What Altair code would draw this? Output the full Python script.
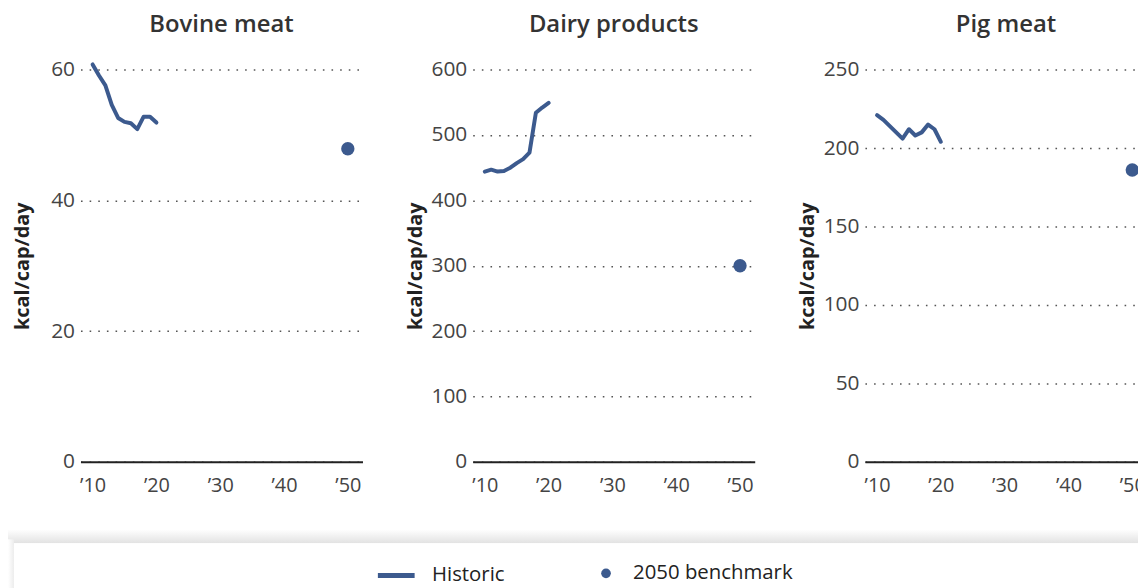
import altair as alt
import pandas as pd

# ---- data ----
years = [2010, 2011, 2012, 2013, 2014, 2015, 2016, 2017, 2018, 2019, 2020]
panels = ["Bovine meat", "Dairy products", "Pig meat"]
bovine = [60.8, 59.1, 57.6, 54.6, 52.6, 52.0, 51.8, 50.9, 52.8, 52.8, 51.9]
dairy = [444, 447, 444, 445, 450, 457, 463, 473, 534, 542, 549]
pig = [221, 218, 214, 210, 206, 212, 208, 210, 215, 212, 204]
bench_year = [2050]
bench_values = [47.9, 300, 186]
y_ticks = [
    [0, 20, 40, 60],
    [0, 100, 200, 300, 400, 500, 600],
    [0, 50, 100, 150, 200, 250],
]
x_ticks = [2010, 2020, 2030, 2040, 2050]
series_line = "Historic"
series_point = "2050 benchmark"

LINE = "#3c5a8e"
FONT = "Open Sans"
PW, PH = 284, 395


def panel(name, values, bval, ticks):
    hist = pd.DataFrame({"year": years, "value": values, "series": series_line})
    pt = pd.DataFrame({"year": bench_year, "value": [bval], "kind": series_point})
    x = alt.X(
        "year:Q",
        scale=alt.Scale(domain=[2008.1, 2052.3], nice=False, zero=False),
        axis=alt.Axis(
            values=x_ticks,
            labelExpr="'\u2019' + slice(toString(datum.value), 2)",
            title=None,
            grid=False,
            domain=True,
        ),
    )
    y = alt.Y(
        "value:Q",
        scale=alt.Scale(domain=[0, ticks[-1]], nice=False),
        axis=alt.Axis(values=ticks, title="kcal/cap/day", titleX=-48, grid=True,
                      domain=False),
    )
    line = alt.Chart(hist).mark_line(
        strokeWidth=4, strokeCap="round", strokeJoin="round"
    ).encode(
        x=x,
        y=y,
        stroke=alt.Stroke(
            "series:N",
            scale=alt.Scale(domain=[series_line], range=[LINE]),
            legend=alt.Legend(
                title=None, orient="none", legendX=297, legendY=488.5,
                symbolType="stroke", symbolSize=1369, symbolStrokeWidth=5,
                labelOffset=15, labelFontSize=20.5, labelColor="#222",
                labelFont=FONT, padding=0, labelLimit=400,
            ),
        ),
    )
    pts = alt.Chart(pt).mark_point(filled=True, size=180, opacity=1).encode(
        x=x,
        y=y,
        fill=alt.Fill(
            "kind:N",
            scale=alt.Scale(domain=[series_point], range=[LINE]),
            legend=alt.Legend(
                title=None, orient="none", legendX=519, legendY=497,
                symbolType="circle", symbolSize=95, symbolStrokeWidth=0,
                labelOffset=17, labelFontSize=20.5, labelColor="#222",
                labelFont=FONT, padding=0, labelLimit=400,
            ),
        ),
    )
    return alt.layer(line, pts).properties(
        width=PW, height=PH, title=alt.Title(name, frame="group")
    )


charts = [
    panel(panels[0], bovine, bench_values[0], y_ticks[0]),
    panel(panels[1], dairy, bench_values[1], y_ticks[1]),
    panel(panels[2], pig, bench_values[2], y_ticks[2]),
]
top = alt.hconcat(*charts, spacing=43)

# legend box with a soft shadow along its top and left edges
BL, BW, BH = -67, 1100, 70
one = pd.DataFrame({"k": [0]})
shadow_top = alt.Chart(one).mark_rect(
    fill=alt.LinearGradient(
        gradient="linear", x1=0, y1=0, x2=0, y2=1,
        stops=[alt.GradientStop(offset=0, color="#ffffff"),
               alt.GradientStop(offset=1, color="#e2e2e2")],
    )
).encode(x=alt.value(BL - 6), x2=alt.value(BW), y=alt.value(0), y2=alt.value(14))
shadow_left = alt.Chart(one).mark_rect(
    fill=alt.LinearGradient(
        gradient="linear", x1=0, y1=0, x2=1, y2=0,
        stops=[alt.GradientStop(offset=0, color="#ffffff"),
               alt.GradientStop(offset=1, color="#ececec")],
    )
).encode(x=alt.value(BL - 6), x2=alt.value(BL), y=alt.value(10), y2=alt.value(BH))
box = alt.Chart(one).mark_rect(fill="#ffffff").encode(
    x=alt.value(BL), x2=alt.value(BW), y=alt.value(14), y2=alt.value(BH)
)
bottom = alt.layer(shadow_top, shadow_left, box).properties(width=BW, height=BH)

chart = (
    alt.vconcat(top, bottom, spacing=34)
    .properties(
        padding={"left": 73, "top": 60, "right": 0, "bottom": 0},
        autosize=alt.AutoSizeParams(type="none"),
        params=[
            alt.VariableParameter(name="width", expr="1065"),
            alt.VariableParameter(name="height", expr="520"),
        ],
    )
    .configure_view(stroke=None)
    .configure_axis(
        labelFont=FONT, labelFontSize=20, labelColor="#444",
        titleFont=FONT, titleFontSize=20, titleFontWeight="bold", titleColor="#222",
        ticks=False, gridColor="#555", gridDash=[1.6, 7.1], gridWidth=1.5,
    )
    .configure_axisX(domainColor="#222", domainWidth=2, labelPadding=14)
    .configure_axisY(labelPadding=6, labelFontSize=21)
    .configure_title(font=FONT, fontSize=24, fontWeight=600, color="#333",
                     anchor="middle", offset=22)
)

chart.save("out.html", embed_options={"renderer": "svg", "actions": False})
